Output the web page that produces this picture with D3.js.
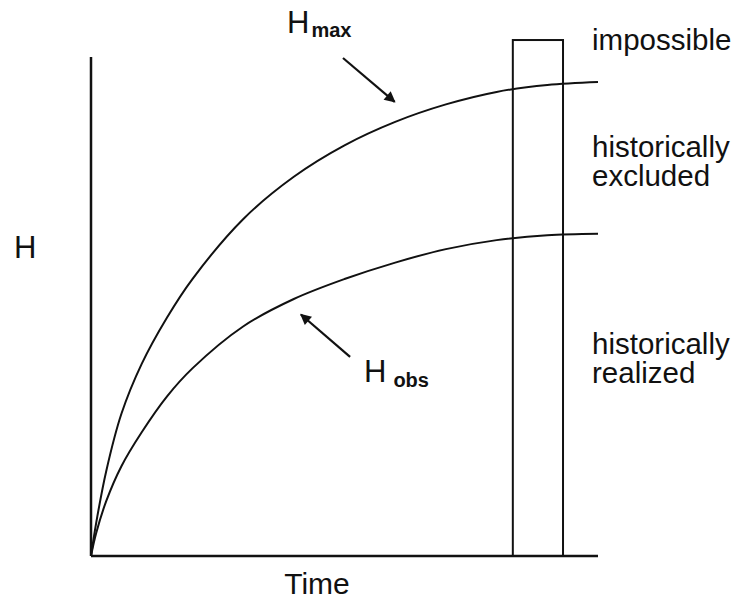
<!DOCTYPE html>
<html>
<head>
<meta charset="utf-8">
<script src="https://cdn.jsdelivr.net/npm/d3@7"></script>
<style>
  html, body { margin: 0; padding: 0; background: #fff; }
  svg { display: block; }
  text { font-family: "Liberation Sans", Arial, Helvetica, sans-serif; fill: #111; }
</style>
</head>
<body>
<svg id="chart" width="743" height="600"></svg>
<script>
// ---- data (arbitrary units) ----
const hmaxTime  = [0, 1, 3, 6, 10, 15, 20, 30, 40, 50, 60, 70, 80, 90, 100];
const hmaxValue = [0, 6.5, 17, 28.5, 38.5, 47.8, 55.5, 67.5, 76, 82.3, 87, 90.5, 93, 94.4, 95];
const hobsTime  = [0, 1, 3, 6, 10, 15, 20, 30, 40, 50, 60, 70, 80, 90, 100];
const hobsValue = [0, 4.5, 11, 18, 24.8, 32, 37.6, 46, 51.5, 55.5, 58.8, 61.5, 63.3, 64.3, 64.6];
const windowTime = [83.2, 93.1];      // present-day window (rectangle)
const windowTop = 103.4;
const regionLabels = [
  { lines: ["impossible"], h: 101.5 },
  { lines: ["historically", "excluded"], h: 80 },
  { lines: ["historically", "realized"], h: 40.5 }
];
const axisLabels = { x: "Time", y: "H" };

const svg = d3.select("#chart");
const x = d3.scaleLinear().domain([0, 100]).range([91, 598]);
const y = d3.scaleLinear().domain([0, 100]).range([556, 57]);

// arrowhead marker
svg.append("defs").append("marker")
  .attr("id", "ah").attr("viewBox", "0 0 10 10")
  .attr("refX", 9).attr("refY", 5)
  .attr("markerWidth", 6).attr("markerHeight", 5)
  .attr("markerUnits", "strokeWidth")
  .attr("orient", "auto")
  .append("path").attr("d", "M0,0 L10,5 L0,10 Z").attr("fill", "#111");

// axes
svg.append("line").attr("x1", x(0)).attr("y1", y(0)).attr("x2", x(0)).attr("y2", y(100))
  .attr("stroke", "#111").attr("stroke-width", 2.5);
svg.append("line").attr("x1", x(0)).attr("y1", y(0)).attr("x2", x(100)).attr("y2", y(0))
  .attr("stroke", "#111").attr("stroke-width", 2.5);

// rectangle window
svg.append("rect")
  .attr("x", x(windowTime[0])).attr("y", y(windowTop))
  .attr("width", x(windowTime[1]) - x(windowTime[0]))
  .attr("height", y(0) - y(windowTop))
  .attr("fill", "none").attr("stroke", "#111").attr("stroke-width", 2);

// curves
const line = d3.line().x(d => x(d[0])).y(d => y(d[1])).curve(d3.curveCatmullRom.alpha(0.5));
svg.append("path").datum(hmaxTime.map((t, i) => [t, hmaxValue[i]]))
  .attr("d", line).attr("fill", "none").attr("stroke", "#111").attr("stroke-width", 2);
svg.append("path").datum(hobsTime.map((t, i) => [t, hobsValue[i]]))
  .attr("d", line).attr("fill", "none").attr("stroke", "#111").attr("stroke-width", 2);

// arrows (data units)
const arrows = [
  { from: [49.7, 99.8], to: [59.9, 91.0] },
  { from: [51.1, 39.9], to: [41.4, 48.4] }
];
arrows.forEach(a => {
  svg.append("line")
    .attr("x1", x(a.from[0])).attr("y1", y(a.from[1]))
    .attr("x2", x(a.to[0])).attr("y2", y(a.to[1]))
    .attr("stroke", "#111").attr("stroke-width", 2.2)
    .attr("marker-end", "url(#ah)");
});

// curve labels
const tmax = svg.append("text").attr("x", 287).attr("y", 33);
tmax.append("tspan").attr("font-size", 31).text("H");
tmax.append("tspan").attr("font-size", 20).attr("font-weight", "bold").attr("dx", 2).attr("dy", 4).text("max");

const tobs = svg.append("text").attr("x", 364).attr("y", 382);
tobs.append("tspan").attr("font-size", 31).text("H");
tobs.append("tspan").attr("font-size", 20).attr("font-weight", "bold").attr("dx", 7).attr("dy", 5).text("obs");

// region labels (one text element per line)
regionLabels.forEach(r => {
  r.lines.forEach((l, i) => {
    svg.append("text").attr("x", 592).attr("y", y(r.h) + i * 29)
      .attr("font-size", 29.5).text(l);
  });
});

// axis labels
svg.append("text").attr("x", 14).attr("y", 258).attr("font-size", 31).text(axisLabels.y);
svg.append("text").attr("x", 317).attr("y", 594).attr("font-size", 30)
  .attr("text-anchor", "middle").text(axisLabels.x);
</script>
</body>
</html>
